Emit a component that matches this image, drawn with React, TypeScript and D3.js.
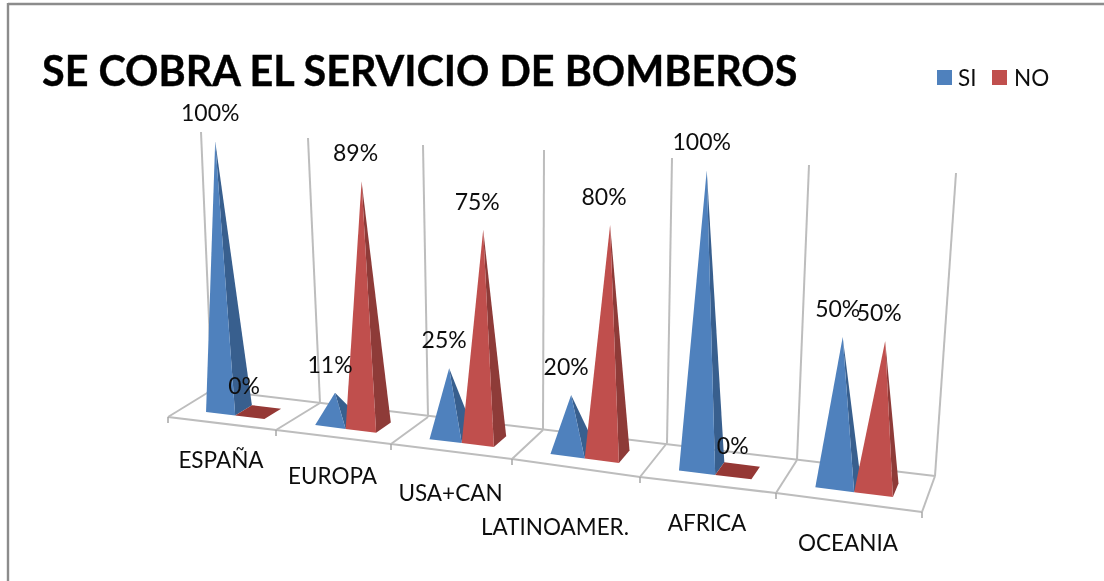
import React from "react";
import * as d3 from "d3";

// ---- data ----
const categories = ["ESPAÑA", "EUROPA", "USA+CAN", "LATINOAMER.", "AFRICA", "OCEANIA"];
const seriesNames = ["SI", "NO"];
const siValues = [100, 11, 25, 20, 100, 50];
const noValues = [0, 89, 75, 80, 0, 50];
const titleText = "SE COBRA EL SERVICIO DE BOMBEROS";

// ---- layout ----
const W = 1104;
const H = 581;
const FONT = "Lato, Carlito, 'Open Sans', sans-serif";
const idx = [0, 1, 2, 3, 4, 5, 6];
const frontX = d3.scaleLinear().domain(idx).range([168, 276, 391, 512, 640, 776, 922]);
const frontY = d3.scaleLinear().domain(idx).range([417, 430, 444, 459, 477, 493, 512]);
const backX = d3.scaleLinear().domain(idx).range([212, 320, 428, 543, 667, 797, 935]);
const backY = d3.scaleLinear().domain(idx).range([390, 403, 417, 430, 443, 460, 476]);
const topX = d3.scaleLinear().domain(idx).range([201, 308, 423, 544, 672, 809, 956]);
const topY = d3.scaleLinear().domain(idx).range([132, 138, 145, 150, 158, 165, 173]);
// the picture's vertical foreshortening is not linear in the value
const valueScale = d3.scaleLinear().domain([0, 50, 100]).range([0, 0.49, 1.025]);

const project = (u: number, v: number, value = 0): [number, number] => {
  const x = frontX(u) + (backX(u) - frontX(u)) * v;
  const y = frontY(u) + (backY(u) - frontY(u)) * v;
  const t = valueScale(value);
  return [x + t * (topX(u) - backX(u)), y + t * (topY(u) - backY(u))];
};

const seriesBand = [
  [0.23, 0.5],
  [0.5, 0.77],
];
const apexShift = [-0.02, 0];
const labelShiftX = [2, 1];
const depthBand = [0.3, 0.68];
const seriesValues = [siValues, noValues];
const faceColors = ["#4F81BD", "#C0504D"];
const sideColors = ["#385F8E", "#8E3A38"];
const flatColor = "#953735";
const gridColor = "#BDBDBD";
const labelOffset: [number, number] = [-7, -20];
const zeroLabelNudge: Record<number, [number, number]> = { 0: [-7, 2], 4: [2, 3] };
const catLabelNudge: [number, number][] = [
  [-1, 44],
  [-1, 47],
  [-1, 49],
  [-21, 67],
  [-1, 46],
  [-1, 48],
];

const path = (pts: [number, number][]) => (d3.line()(pts) ?? "") + "Z";

export default function App() {
  const pyramids = categories.flatMap((_, i) =>
    seriesNames.map((_, s) => {
      const value = seriesValues[s][i];
      const [u0, u1] = seriesBand[s].map((d) => i + d);
      const [v0, v1] = depthBand;
      const fl = project(u0, v0);
      const fr = project(u1, v0);
      const br = project(u1, v1);
      const bl = project(u0, v1);
      const apex = project((u0 + u1) / 2 + apexShift[s], (v0 + v1) / 2, value);
      const nudge = value === 0 ? zeroLabelNudge[i] ?? [0, 0] : [labelShiftX[s], 0];
      return { i, s, value, fl, fr, br, bl, apex, nudge };
    })
  );

  return (
    <svg
      width={W}
      height={H}
      viewBox={`0 0 ${W} ${H}`}
      style={{ position: "fixed", left: 0, top: 0, display: "block", background: "#fff" }}
      fontFamily={FONT}
    >
      <defs>
        <filter id="soft" x="-5%" y="-5%" width="110%" height="110%">
          <feGaussianBlur stdDeviation="0.5" />
        </filter>
        <filter id="softText" x="-5%" y="-5%" width="110%" height="110%">
          <feGaussianBlur stdDeviation="0.3" />
        </filter>
      </defs>

      {/* outer frame: only top and left edges are visible */}
      <line x1={8} y1={4} x2={W} y2={4} stroke="#8C8C8C" strokeWidth={2.4} />
      <line x1={8} y1={3} x2={8} y2={H} stroke="#8C8C8C" strokeWidth={2.4} />

      <g filter="url(#soft)">
        {/* walls */}
        {idx.map((k) => (
          <line key={k} x1={topX(k)} y1={topY(k)} x2={backX(k)} y2={backY(k)} stroke={gridColor} strokeWidth={2} />
        ))}
        {/* floor */}
        <line x1={backX(0)} y1={backY(0)} x2={backX(6)} y2={backY(6)} stroke={gridColor} strokeWidth={2} />
        {idx.map((k) => (
          <line key={k} x1={frontX(k)} y1={frontY(k)} x2={backX(k)} y2={backY(k)} stroke={gridColor} strokeWidth={2} />
        ))}
        {idx.slice(1).map((k) => (
          <line key={k} x1={frontX(k - 1)} y1={frontY(k - 1)} x2={frontX(k)} y2={frontY(k)} stroke={gridColor} strokeWidth={2.2} />
        ))}
        {idx.map((k) => (
          <line key={k} x1={frontX(k)} y1={frontY(k)} x2={frontX(k)} y2={frontY(k) + 6} stroke="#A6A6A6" strokeWidth={1.5} />
        ))}

        {/* pyramids */}
        {pyramids.map((p) =>
          p.value === 0 ? (
            <path key={`${p.i}-${p.s}`} d={path([p.fl, p.fr, p.br, p.bl])} fill={flatColor} />
          ) : (
            <g key={`${p.i}-${p.s}`}>
              <path d={path([p.fr, p.br, p.apex])} fill={sideColors[p.s]} />
              <path d={path([p.fl, p.fr, p.apex])} fill={faceColors[p.s]} />
            </g>
          )
        )}
      </g>

      <g filter="url(#softText)">
        {/* value labels */}
        <g fontSize={23} fill="#111" textAnchor="middle">
          {pyramids.map((p) => (
            <text
              key={`${p.i}-${p.s}`}
              x={p.apex[0] + labelOffset[0] + p.nudge[0]}
              y={p.apex[1] + labelOffset[1] + p.nudge[1]}
            >
              {p.value}%
            </text>
          ))}
        </g>

        {/* category labels */}
        <g fontSize={22.5} fill="#111" textAnchor="middle">
          {categories.map((c, i) => (
            <text key={c} x={frontX(i + 0.5) + catLabelNudge[i][0]} y={frontY(i + 0.5) + catLabelNudge[i][1]}>
              {c}
            </text>
          ))}
        </g>

        {/* title */}
        <text x={42} y={85.5} fontSize={41.3} fontWeight={700} fill="#000" stroke="#000" strokeWidth={0.4}>
          {titleText}
        </text>

        {/* legend */}
        <g fontSize={22.5} fill="#111">
          <rect x={937} y={70} width={15} height={15} fill={faceColors[0]} />
          <text x={958} y={85.5}>{seriesNames[0]}</text>
          <rect x={992} y={70} width={15} height={15} fill={faceColors[1]} />
          <text x={1014} y={85.5}>{seriesNames[1]}</text>
        </g>
      </g>
    </svg>
  );
}
